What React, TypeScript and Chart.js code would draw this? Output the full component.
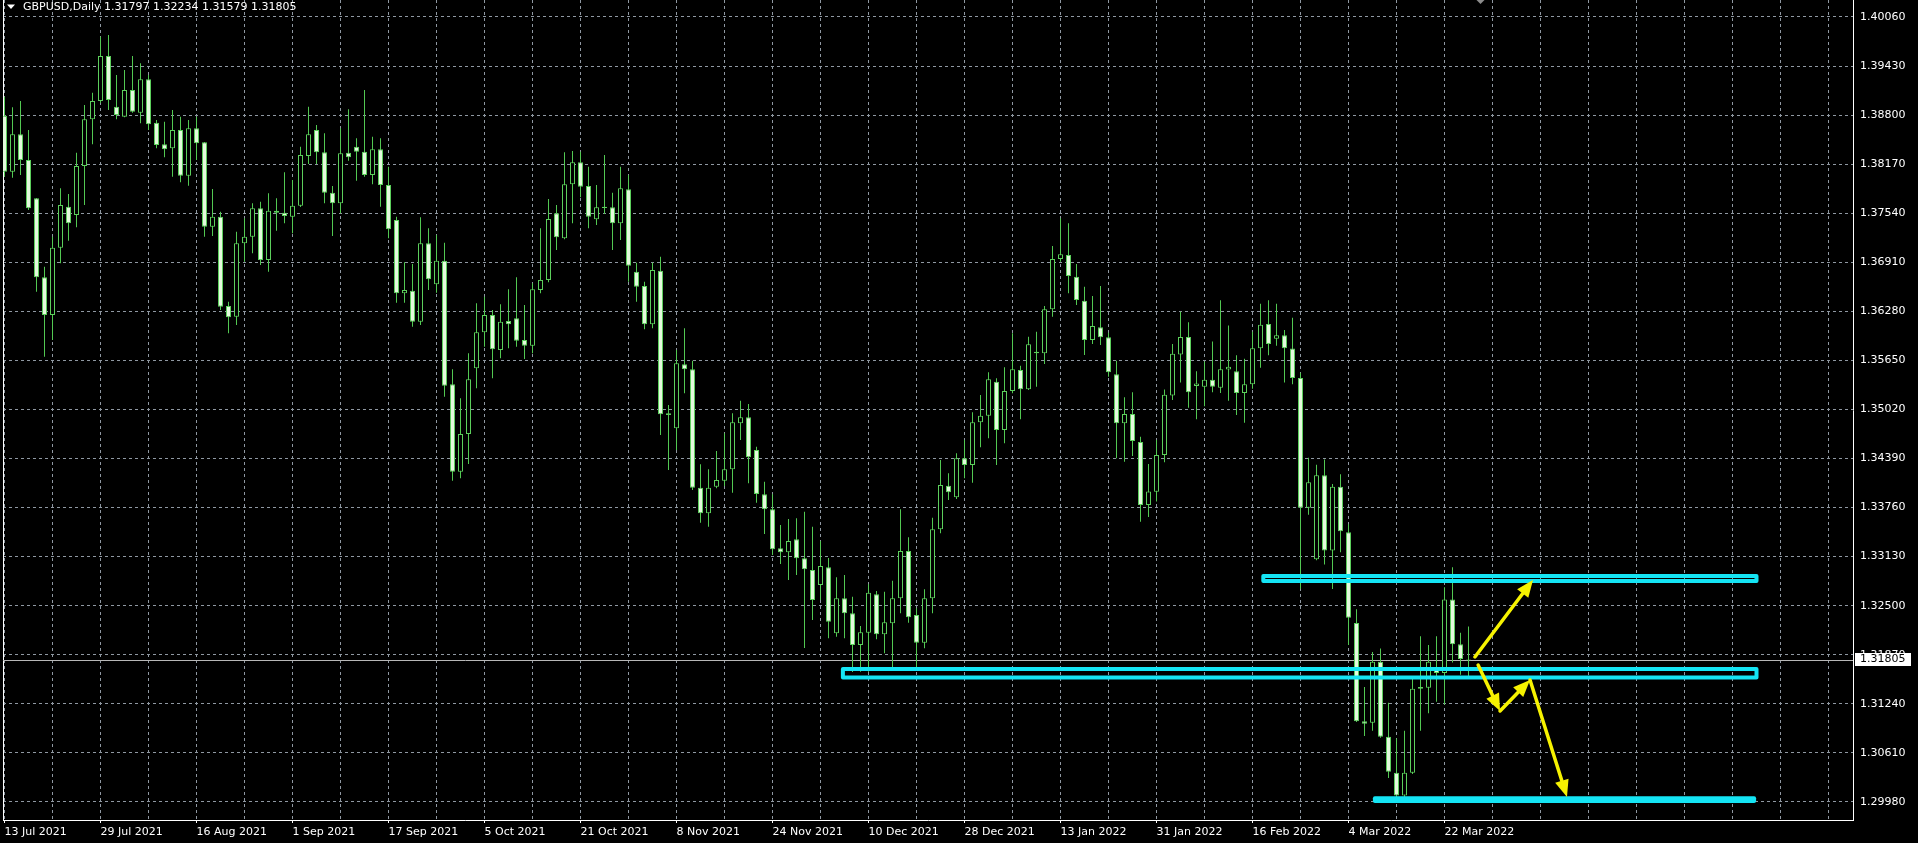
import React, { useEffect, useRef } from 'react';
import { Chart, registerables } from 'chart.js';

Chart.register(...registerables);

const symbolTitle = 'GBPUSD,Daily';
const lastBarOHLC = '1.31797 1.32234 1.31579 1.31805';
const bidPrice = 1.31805;

const dateLabels = [
  '13 Jul 2021', '29 Jul 2021', '16 Aug 2021', '1 Sep 2021', '17 Sep 2021', '5 Oct 2021',
  '21 Oct 2021', '8 Nov 2021', '24 Nov 2021', '10 Dec 2021', '28 Dec 2021', '13 Jan 2022',
  '31 Jan 2022', '16 Feb 2022', '4 Mar 2022', '22 Mar 2022',
];

const priceTicks = [
  1.2998, 1.3061, 1.3124, 1.3187, 1.325, 1.3313, 1.3376, 1.3439, 1.3502,
  1.3565, 1.3628, 1.3691, 1.3754, 1.3817, 1.388, 1.3943, 1.4006,
];

const openPrices = [
  1.38792, 1.38073, 1.38554, 1.38223, 1.37732, 1.36717, 1.36233, 1.37097, 1.37624, 1.37517,
  1.38146, 1.38746, 1.38981, 1.39559, 1.38908, 1.38780, 1.39122, 1.38831, 1.39260, 1.38702,
  1.38425, 1.38374, 1.38609, 1.38022, 1.38631, 1.38451, 1.37367, 1.37495, 1.36349, 1.36211,
  1.37154, 1.37239, 1.37603, 1.36939, 1.37547, 1.37547, 1.37495, 1.37637, 1.38275, 1.38609,
  1.38322, 1.37804, 1.37667, 1.38317, 1.38394, 1.38330, 1.38031, 1.38361, 1.37902, 1.37453,
  1.36512, 1.36545, 1.36147, 1.37154, 1.36627, 1.36930, 1.35343, 1.34221, 1.34705, 1.35549,
  1.36011, 1.36233, 1.35784, 1.36156, 1.36191, 1.35912, 1.35839, 1.36554, 1.36683, 1.37539,
  1.37218, 1.37911, 1.38194, 1.37890, 1.37462, 1.37607, 1.37616, 1.37411, 1.37847, 1.36789,
  1.36606, 1.36114, 1.36802, 1.34949, 1.34778, 1.35600, 1.35536, 1.34015, 1.33687, 1.34028,
  1.34105, 1.34252, 1.34842, 1.34919, 1.34500, 1.33931, 1.33738, 1.33237, 1.33186, 1.33353,
  1.33109, 1.32959, 1.32766, 1.32993, 1.32146, 1.32595, 1.32403, 1.31996, 1.32154, 1.32647,
  1.32133, 1.32274, 1.32595, 1.33203, 1.32381, 1.32025, 1.32595, 1.33481, 1.34041, 1.33892,
  1.34393, 1.34307, 1.34855, 1.34940, 1.35377, 1.34756, 1.35257, 1.35527, 1.35279, 1.35741,
  1.35741, 1.36306, 1.36952, 1.37004, 1.36725, 1.36417, 1.35912, 1.36075, 1.35947, 1.35472,
  1.34842, 1.34962, 1.34602, 1.33793, 1.33964, 1.34435, 1.35199, 1.35726, 1.35951, 1.35321,
  1.35312, 1.35402, 1.35298, 1.35532, 1.35510, 1.35232, 1.35343, 1.35807, 1.36118, 1.35928,
  1.35972, 1.35802, 1.35424, 1.33757, 1.33096, 1.34175, 1.33209, 1.34027, 1.33443, 1.32278,
  1.31016, 1.30998, 1.31780, 1.30818, 1.30355, 1.30063, 1.30355, 1.31433, 1.31447, 1.31690,
  1.31636, 1.32580, 1.32005, 1.31797,
];

const highPrices = [
  1.39036, 1.38900, 1.38981, 1.38609, 1.37735, 1.36853, 1.37239, 1.37860, 1.37787, 1.38317,
  1.38930, 1.39088, 1.39807, 1.39829, 1.39315, 1.39379, 1.39559, 1.39465, 1.39315, 1.38737,
  1.38715, 1.38866, 1.38780, 1.38737, 1.38780, 1.38455, 1.37851, 1.37560, 1.36404, 1.37303,
  1.37475, 1.37667, 1.37688, 1.37796, 1.37732, 1.38066, 1.37967, 1.38394, 1.38908, 1.38673,
  1.38566, 1.37890, 1.38631, 1.38875, 1.38502, 1.39122, 1.38523, 1.38502, 1.38137, 1.37495,
  1.36910, 1.36888, 1.37488, 1.37346, 1.37260, 1.37162, 1.35536, 1.35163, 1.35741, 1.36383,
  1.36468, 1.36297, 1.36371, 1.36563, 1.36717, 1.36362, 1.36640, 1.37346, 1.37723, 1.37646,
  1.38322, 1.38339, 1.38330, 1.38137, 1.37902, 1.38288, 1.37804, 1.38137, 1.38031, 1.36905,
  1.36661, 1.36905, 1.36982, 1.35077, 1.35784, 1.36062, 1.35646, 1.34316, 1.34252, 1.34487,
  1.34714, 1.34971, 1.35133, 1.35090, 1.34542, 1.34093, 1.33931, 1.33537, 1.33614, 1.33623,
  1.33707, 1.33515, 1.33331, 1.33113, 1.32865, 1.32894, 1.32616, 1.32240, 1.32775, 1.32689,
  1.32680, 1.32821, 1.33738, 1.33379, 1.32467, 1.32711, 1.33630, 1.34371, 1.34200, 1.34457,
  1.34628, 1.34984, 1.35206, 1.35497, 1.35420, 1.35561, 1.35998, 1.35582, 1.35954, 1.36019,
  1.36349, 1.37119, 1.37475, 1.37411, 1.36888, 1.36597, 1.36477, 1.36606, 1.36006, 1.35646,
  1.35176, 1.35241, 1.34669, 1.34320, 1.34628, 1.35276, 1.35861, 1.36274, 1.36139, 1.35510,
  1.35636, 1.35892, 1.36422, 1.36098, 1.35717, 1.35672, 1.36017, 1.36377, 1.36422, 1.36377,
  1.36041, 1.36197, 1.35492, 1.34399, 1.34310, 1.34378, 1.34063, 1.34189, 1.33546, 1.32454,
  1.31456, 1.31906, 1.31951, 1.31253, 1.30795, 1.30894, 1.31591, 1.32107, 1.31996, 1.32107,
  1.32737, 1.32993, 1.32152, 1.32234,
];

const lowPrices = [
  1.38009, 1.37996, 1.38031, 1.37581, 1.36532, 1.35698, 1.35912, 1.36897, 1.37187, 1.37359,
  1.37646, 1.38425, 1.38955, 1.38866, 1.38746, 1.38772, 1.38831, 1.38695, 1.38609, 1.38374,
  1.38258, 1.38009, 1.37937, 1.37893, 1.38223, 1.37239, 1.37248, 1.36297, 1.35998, 1.36105,
  1.36918, 1.37025, 1.36875, 1.36789, 1.37316, 1.37411, 1.37282, 1.37620, 1.38172, 1.38172,
  1.37667, 1.37248, 1.37539, 1.38214, 1.37958, 1.38009, 1.37911, 1.37624, 1.37218, 1.36391,
  1.36391, 1.36083, 1.36105, 1.36554, 1.36519, 1.35184, 1.34105, 1.34136, 1.34320, 1.35292,
  1.35826, 1.35420, 1.35677, 1.35806, 1.35826, 1.35668, 1.35741, 1.36512, 1.36653, 1.37068,
  1.37205, 1.37411, 1.37745, 1.37346, 1.37389, 1.37530, 1.37068, 1.37196, 1.36661, 1.36404,
  1.36050, 1.36062, 1.34692, 1.34243, 1.34500, 1.35228, 1.33986, 1.33566, 1.33515, 1.34008,
  1.34037, 1.33951, 1.34628, 1.34072, 1.33823, 1.33421, 1.33151, 1.33036, 1.32830, 1.32894,
  1.31957, 1.32317, 1.32573, 1.32082, 1.32102, 1.32082, 1.31649, 1.31653, 1.31653, 1.32069,
  1.31889, 1.31684, 1.32403, 1.32282, 1.31675, 1.31953, 1.32403, 1.33430, 1.33858, 1.33870,
  1.34136, 1.34080, 1.34534, 1.34650, 1.34307, 1.34586, 1.35228, 1.34894, 1.35270, 1.35312,
  1.35604, 1.36211, 1.36918, 1.36512, 1.36362, 1.35719, 1.35861, 1.35848, 1.35441, 1.34393,
  1.34349, 1.34423, 1.33578, 1.33639, 1.33838, 1.34342, 1.35142, 1.35366, 1.35043, 1.34894,
  1.35061, 1.35241, 1.35232, 1.35133, 1.34949, 1.34849, 1.35285, 1.35555, 1.35717, 1.35838,
  1.35366, 1.35343, 1.32715, 1.33667, 1.33083, 1.33029, 1.32715, 1.33186, 1.31996, 1.31007,
  1.30827, 1.30894, 1.30804, 1.30288, 1.30044, 1.30044, 1.30339, 1.30894, 1.31119, 1.31268,
  1.31232, 1.31771, 1.31613, 1.31579,
];

const closePrices = [
  1.38073, 1.38554, 1.38223, 1.37603, 1.36717, 1.36233, 1.37097, 1.37646, 1.37411, 1.38146,
  1.38746, 1.38981, 1.39559, 1.38994, 1.38801, 1.39122, 1.38844, 1.39260, 1.38682, 1.38416,
  1.38361, 1.38609, 1.38022, 1.38631, 1.38438, 1.37367, 1.37495, 1.36340, 1.36204, 1.37154,
  1.37239, 1.37603, 1.36939, 1.37572, 1.37572, 1.37504, 1.37637, 1.38288, 1.38554, 1.38322,
  1.37804, 1.37667, 1.38310, 1.38258, 1.38330, 1.38031, 1.38361, 1.37902, 1.37334, 1.36512,
  1.36554, 1.36147, 1.37154, 1.36692, 1.36930, 1.35325, 1.34221, 1.34705, 1.35407, 1.36011,
  1.36233, 1.35793, 1.36147, 1.36114, 1.35903, 1.35839, 1.36563, 1.36683, 1.37466, 1.37231,
  1.37911, 1.38194, 1.37881, 1.37495, 1.37616, 1.37624, 1.37411, 1.37860, 1.36866, 1.36597,
  1.36114, 1.36811, 1.34958, 1.34971, 1.35613, 1.35536, 1.34015, 1.33687, 1.34015, 1.34114,
  1.34252, 1.34855, 1.34919, 1.34406, 1.33935, 1.33738, 1.33224, 1.33186, 1.33331, 1.33109,
  1.32968, 1.32573, 1.33010, 1.32295, 1.32595, 1.32403, 1.31996, 1.32159, 1.32667, 1.32133,
  1.32287, 1.32595, 1.33203, 1.32351, 1.32025, 1.32595, 1.33481, 1.34050, 1.33956, 1.34393,
  1.34307, 1.34855, 1.34940, 1.35407, 1.34756, 1.35257, 1.35536, 1.35279, 1.35857, 1.35762,
  1.36306, 1.36952, 1.37013, 1.36734, 1.36426, 1.35912, 1.36092, 1.35947, 1.35497, 1.34842,
  1.34962, 1.34615, 1.33793, 1.33967, 1.34435, 1.35208, 1.35735, 1.35951, 1.35241, 1.35352,
  1.35402, 1.35312, 1.35537, 1.35568, 1.35232, 1.35343, 1.35807, 1.36107, 1.35861, 1.35972,
  1.35807, 1.35424, 1.33757, 1.34085, 1.34175, 1.33209, 1.34027, 1.33456, 1.32346, 1.31016,
  1.30984, 1.31780, 1.30818, 1.30369, 1.30063, 1.30355, 1.31433, 1.31456, 1.31780, 1.31636,
  1.32580, 1.32005, 1.31816, 1.31805,
];

// drawn objects (cyan zones, yellow arrows) in bar-index / price units
const zoneRects = [
  { fromBar: 157.35, toBar: 219.0, upper: 1.32882, lower: 1.32817 },
  { fromBar: 104.8, toBar: 219.0, upper: 1.31687, lower: 1.31578 },
  { fromBar: 171.3, toBar: 218.7, upper: 1.30027, lower: 1.29992 },
];

const arrowSegments = [
  { fromBar: 183.8, fromPrice: 1.31842, toBar: 191.06, toPrice: 1.3283 },
  { fromBar: 184.2, fromPrice: 1.31739, toBar: 186.94, toPrice: 1.31148 },
  { fromBar: 186.94, fromPrice: 1.31148, toBar: 190.69, toPrice: 1.31546 },
  { fromBar: 190.69, fromPrice: 1.31546, toBar: 195.31, toPrice: 1.30044 },
];

const GRID_EVERY = 6;
const LABEL_EVERY = 12;
const X_MIN = -0.1875;
const X_MAX = 231.0625;
const Y_MIN = 1.29748;
const Y_MAX = 1.40278;

const WICK = '#52c852';
const EDGE = '#5ccf5c';
const BEAR_FILL = '#e4fadd';
const GRID = '#8f98a2';
const CYAN = '#14e4f4';
const YELLOW = '#f6f200';
const FONT = 'DejaVu Sans';

export default function App() {
  const ref = useRef<HTMLCanvasElement>(null);

  useEffect(() => {
    const canvas = ref.current;
    if (!canvas) return;
    const n = closePrices.length;
    const idx = Array.from({ length: n }, (_, i) => i);
    const gridBars: number[] = [];
    for (let v = 0; v <= X_MAX; v += GRID_EVERY) gridBars.push(v);
    const isLabelled = (v: number) =>
      v % LABEL_EVERY === 0 && v / LABEL_EVERY < dateLabels.length;

    const drawArrow = (ctx: CanvasRenderingContext2D, x1: number, y1: number, x2: number, y2: number) => {
      const a = Math.atan2(y2 - y1, x2 - x1);
      const hl = 17;
      const hw = 7;
      const bx = x2 - hl * Math.cos(a);
      const by = y2 - hl * Math.sin(a);
      ctx.beginPath();
      ctx.moveTo(x1, y1);
      ctx.lineTo(bx, by);
      ctx.stroke();
      ctx.beginPath();
      ctx.moveTo(x2, y2);
      ctx.lineTo(bx + hw * Math.sin(a), by - hw * Math.cos(a));
      ctx.lineTo(bx - hw * Math.sin(a), by + hw * Math.cos(a));
      ctx.closePath();
      ctx.fill();
    };

    const overlay = {
      id: 'mtOverlay',
      beforeDatasetsDraw(chart: any) {
        const { ctx, chartArea, scales } = chart;
        ctx.save();
        ctx.lineWidth = 1;
        ctx.strokeStyle = '#ffffff';
        ctx.beginPath();
        ctx.moveTo(chartArea.left + 0.5, chartArea.top);
        ctx.lineTo(chartArea.left + 0.5, chartArea.bottom);
        ctx.stroke();
        const by = Math.round(scales.y.getPixelForValue(bidPrice)) + 0.5;
        ctx.strokeStyle = '#b8b8b8';
        ctx.beginPath();
        ctx.moveTo(chartArea.left, by);
        ctx.lineTo(chartArea.right, by);
        ctx.stroke();
        ctx.restore();
      },
      afterDatasetsDraw(chart: any) {
        const { ctx, scales } = chart;
        const xs = scales.x;
        const ys = scales.y;
        ctx.save();
        ctx.lineJoin = 'round';
        ctx.lineCap = 'round';
        ctx.strokeStyle = CYAN;
        ctx.lineWidth = 4;
        zoneRects.forEach((r) => {
          const x1 = xs.getPixelForValue(r.fromBar);
          const x2 = xs.getPixelForValue(r.toBar);
          const y1 = ys.getPixelForValue(r.upper);
          const y2 = ys.getPixelForValue(r.lower);
          ctx.strokeRect(x1, y1, x2 - x1, y2 - y1);
        });
        ctx.strokeStyle = YELLOW;
        ctx.fillStyle = YELLOW;
        ctx.lineWidth = 3.5;
        arrowSegments.forEach((s) => {
          drawArrow(
            ctx,
            xs.getPixelForValue(s.fromBar),
            ys.getPixelForValue(s.fromPrice),
            xs.getPixelForValue(s.toBar),
            ys.getPixelForValue(s.toPrice),
          );
        });
        ctx.restore();
      },
      afterDraw(chart: any) {
        const { ctx, chartArea, scales } = chart;
        ctx.save();
        ctx.fillStyle = '#ffffff';
        ctx.beginPath();
        ctx.moveTo(7, 4.5);
        ctx.lineTo(15, 4.5);
        ctx.lineTo(11, 9);
        ctx.closePath();
        ctx.fill();
        ctx.font = `11px "${FONT}"`;
        ctx.textBaseline = 'middle';
        ctx.textAlign = 'left';
        ctx.fillText(symbolTitle, 23, 7);
        ctx.fillText(lastBarOHLC, 104, 7);
        const sx = scales.x.getPixelForValue(n - 1) + 12;
        ctx.fillStyle = '#8c8c8c';
        ctx.beginPath();
        ctx.moveTo(sx - 4, 0);
        ctx.lineTo(sx + 4, 0);
        ctx.lineTo(sx, 4);
        ctx.closePath();
        ctx.fill();
        const py = scales.y.getPixelForValue(bidPrice);
        ctx.fillStyle = '#ffffff';
        ctx.fillRect(chartArea.right + 2, Math.round(py) - 7, 56, 13);
        ctx.fillStyle = '#000000';
        ctx.fillText(bidPrice.toFixed(5), chartArea.right + 7, Math.round(py) - 0.5);
        ctx.restore();
      },
    };

    const chart = new Chart(canvas, {
      type: 'bar',
      data: {
        datasets: [
          {
            label: 'wicks',
            data: idx.map((i) => ({ x: i, y: [lowPrices[i], highPrices[i]] })) as any,
            backgroundColor: WICK,
            borderWidth: 0,
            barThickness: 1,
            grouped: false,
            inflateAmount: 0,
            order: 2,
          } as any,
          {
            label: 'bodies',
            data: idx.map((i) => ({ x: i, y: [openPrices[i], closePrices[i]] })) as any,
            backgroundColor: idx.map((i) => (closePrices[i] >= openPrices[i] ? '#000000' : BEAR_FILL)),
            borderColor: EDGE,
            borderWidth: 1,
            borderSkipped: false,
            barThickness: 5,
            minBarLength: 1,
            grouped: false,
            inflateAmount: 0,
            order: 1,
          } as any,
        ],
      },
      options: {
        animation: false,
        responsive: false,
        maintainAspectRatio: false,
        events: [],
        layout: { padding: { left: 3, top: 0, right: 0, bottom: 0 } },
        plugins: {
          legend: { display: false },
          tooltip: { enabled: false },
          title: { display: false },
        },
        scales: {
          x: {
            type: 'linear',
            min: X_MIN,
            max: X_MAX,
            offset: false,
            afterBuildTicks: (s: any) => {
              s.ticks = gridBars.map((v) => ({ value: v }));
            },
            afterFit: (s: any) => {
              s.height = 23;
              s.paddingLeft = 0;
              s.paddingRight = 0;
            },
            grid: {
              offset: false,
              color: GRID,
              lineWidth: 1,
              drawTicks: true,
              tickLength: 3,
              tickWidth: 1,
              tickColor: (c: any) =>
                c.tick && isLabelled(c.tick.value) ? '#ffffff' : 'rgba(0,0,0,0)',
            },
            border: { display: true, color: '#ffffff', width: 1, dash: [3, 3] },
            ticks: {
              autoSkip: false,
              maxRotation: 0,
              minRotation: 0,
              align: 'start',
              padding: 3,
              color: '#ffffff',
              font: { family: FONT, size: 11 },
              callback: (v: any) => {
                const num = Number(v);
                return isLabelled(num) ? dateLabels[num / LABEL_EVERY] : '';
              },
            },
          } as any,
          y: {
            type: 'linear',
            position: 'right',
            min: Y_MIN,
            max: Y_MAX,
            beginAtZero: false,
            afterBuildTicks: (s: any) => {
              s.ticks = priceTicks.map((v) => ({ value: v }));
            },
            afterFit: (s: any) => {
              s.width = 65;
              s.paddingTop = 0;
              s.paddingBottom = 0;
            },
            grid: { color: GRID, lineWidth: 1, drawTicks: false },
            border: { display: true, color: '#ffffff', width: 1, dash: [3, 3] },
            ticks: {
              padding: 7,
              color: '#ffffff',
              font: { family: FONT, size: 11 },
              callback: (v: any) => Number(v).toFixed(5),
            },
          } as any,
        },
      },
      plugins: [overlay],
    });

    return () => chart.destroy();
  }, []);

  return (
    <div
      style={{
        position: 'fixed',
        left: 0,
        top: 0,
        width: '1918px',
        height: '843px',
        background: '#000000',
        overflow: 'hidden',
      }}
    >
      <canvas
        ref={ref}
        width={1918}
        height={843}
        style={{ display: 'block', width: '1918px', height: '843px' }}
      />
    </div>
  );
}
